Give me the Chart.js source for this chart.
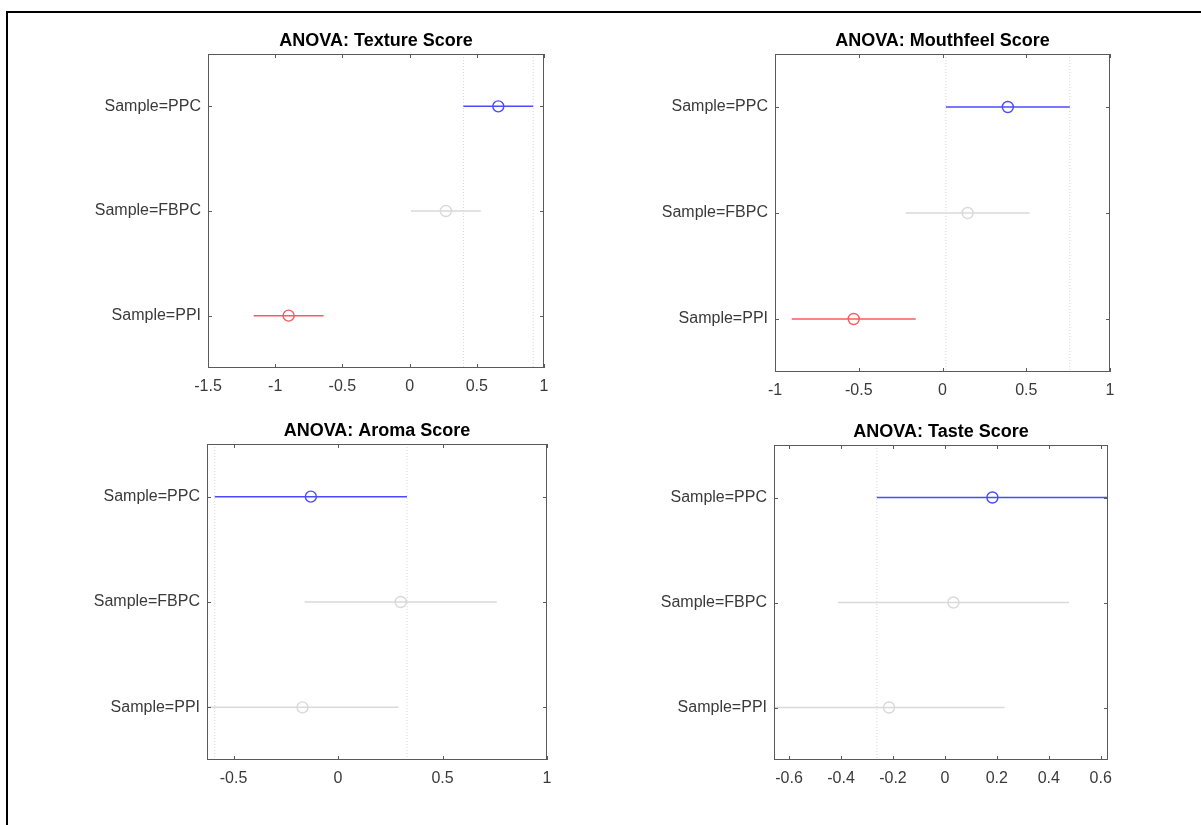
<!DOCTYPE html>
<html>
<head>
<meta charset="utf-8">
<script src="https://cdn.jsdelivr.net/npm/chart.js@4.4.0/dist/chart.umd.min.js"></script>
<style>
  html, body { margin: 0; padding: 0; background: #fff; }
  #page { position: relative; width: 1201px; height: 825px; overflow: hidden; }
  #frame { position: absolute; left: 6px; top: 11px; width: 1300px; height: 900px;
           border-left: 2px solid #000; border-top: 2px solid #000; }
  canvas { position: absolute; }
</style>
</head>
<body>
<div id="page">
  <div id="frame"></div>
  <canvas id="texture"></canvas>
  <canvas id="mouthfeel"></canvas>
  <canvas id="aroma"></canvas>
  <canvas id="taste"></canvas>
</div>
<script>
// === DADOS ===
const samples = ['Sample=PPC', 'Sample=FBPC', 'Sample=PPI'];

const textureMean = [0.66, 0.27, -0.90];
const textureLow = [0.40, 0.01, -1.16];
const textureHigh = [0.92, 0.53, -0.64];
const textureRange = [-1.5, 1];
const textureTicks = [-1.5, -1, -0.5, 0, 0.5, 1];

const mouthfeelMean = [0.39, 0.15, -0.53];
const mouthfeelLow = [0.02, -0.22, -0.90];
const mouthfeelHigh = [0.76, 0.52, -0.16];
const mouthfeelRange = [-1, 1];
const mouthfeelTicks = [-1, -0.5, 0, 0.5, 1];

const aromaMean = [-0.13, 0.30, -0.17];
const aromaLow = [-0.59, -0.16, -0.63];
const aromaHigh = [0.33, 0.76, 0.29];
const aromaRange = [-0.627, 1];
const aromaTicks = [-0.5, 0, 0.5, 1];

const tasteMean = [0.183, 0.033, -0.215];
const tasteLow = [-0.262, -0.412, -0.66];
const tasteHigh = [0.628, 0.478, 0.23];
const tasteRange = [-0.658, 0.628];
const tasteTicks = [-0.6, -0.4, -0.2, 0, 0.2, 0.4, 0.6];

// === LAYOUT ===
const Y_AXIS_W = 150, TOP_H = 24, X_AXIS_H = 40, RIGHT_PAD = 20;

Chart.defaults.font.family = '"Liberation Sans", Arial, Helvetica, sans-serif';
Chart.defaults.font.size = 16;
Chart.defaults.color = '#3a3a3a';

const boxPlugin = {
  id: 'box',
  afterDatasetsDraw(chart) {
    const { ctx, chartArea: a, scales: { x, y } } = chart;
    ctx.save();
    ctx.strokeStyle = '#5a5a5a';
    ctx.lineWidth = 1;
    ctx.strokeRect(a.left + 0.5, a.top + 0.5, a.width - 1, a.height - 1);
    ctx.beginPath();
    x.ticks.forEach(t => {
      const px = Math.round(x.getPixelForValue(t.value)) + 0.5;
      ctx.moveTo(px, a.bottom); ctx.lineTo(px, a.bottom - 4);
      ctx.moveTo(px, a.top); ctx.lineTo(px, a.top + 4);
    });
    y.ticks.forEach(t => {
      const py = Math.round(y.getPixelForValue(t.value)) + 0.5;
      ctx.moveTo(a.left, py); ctx.lineTo(a.left + 4, py);
      ctx.moveTo(a.right, py); ctx.lineTo(a.right - 4, py);
    });
    ctx.stroke();
    ctx.restore();
  }
};

function corGrupo(i, low, high) {
  if (i === 0) return '#4a4aff';
  if (high[i] < low[0] || low[i] > high[0]) return '#ff5a5a';
  return '#d9d9d9';
}

function desenha(id, titulo, mean, low, high, range, ticks, box) {
  const canvas = document.getElementById(id);
  canvas.width = box.w + Y_AXIS_W + RIGHT_PAD;
  canvas.height = box.h + TOP_H + X_AXIS_H;
  canvas.style.left = (box.x - Y_AXIS_W) + 'px';
  canvas.style.top = (box.y - TOP_H) + 'px';

  const cores = samples.map((_, i) => corGrupo(i, low, high));
  const datasets = [];

  datasets.push({
    type: 'scatter',
    data: mean.map((m, i) => ({ x: m, y: i + 1 })),
    pointStyle: 'circle',
    pointRadius: 5.5,
    pointBorderWidth: 1.4,
    pointBorderColor: cores,
    pointBackgroundColor: 'rgba(0,0,0,0)',
    showLine: false
  });

  samples.forEach((_, i) => {
    datasets.push({
      type: 'scatter',
      data: [{ x: low[i], y: i + 1 }, { x: high[i], y: i + 1 }],
      showLine: true,
      borderColor: cores[i],
      borderWidth: 1.5,
      pointRadius: 0
    });
  });

  // linhas pontilhadas do grupo selecionado
  [low[0], high[0]].forEach(v => {
    datasets.push({
      type: 'scatter',
      data: [{ x: v, y: 0.5 }, { x: v, y: 3.5 }],
      showLine: true,
      borderColor: '#d6d6d6',
      borderWidth: 1,
      borderDash: [1, 2],
      pointRadius: 0
    });
  });

  new Chart(canvas.getContext('2d'), {
    type: 'scatter',
    data: { datasets },
    options: {
      responsive: false,
      animation: false,
      layout: { padding: { left: 0, right: RIGHT_PAD, top: 0, bottom: 0 } },
      plugins: {
        legend: { display: false },
        tooltip: { enabled: false },
        title: {
          display: true,
          fullSize: false,
          text: titulo,
          color: '#000',
          font: { size: 18, weight: 'bold' },
          padding: { top: 0, bottom: 2.4 }
        }
      },
      scales: {
        x: {
          type: 'linear',
          min: range[0],
          max: range[1],
          grid: { display: false, drawTicks: false },
          border: { display: false },
          afterBuildTicks: s => { s.ticks = ticks.map(v => ({ value: v })); },
          afterFit: s => { s.height = X_AXIS_H; },
          ticks: { padding: 9, maxRotation: 0, autoSkip: false, callback: v => String(v) }
        },
        y: {
          type: 'linear',
          min: 0.5,
          max: 3.5,
          reverse: true,
          grid: { display: false, drawTicks: false },
          border: { display: false },
          afterBuildTicks: s => { s.ticks = samples.map((_, i) => ({ value: i + 1 })); },
          afterFit: s => { s.width = Y_AXIS_W; },
          ticks: { padding: 7, autoSkip: false, callback: v => samples[v - 1] }
        }
      }
    },
    plugins: [boxPlugin]
  });
}

desenha('texture', 'ANOVA: Texture Score', textureMean, textureLow, textureHigh,
  textureRange, textureTicks, { x: 208, y: 54, w: 336, h: 314 });
desenha('mouthfeel', 'ANOVA: Mouthfeel Score', mouthfeelMean, mouthfeelLow, mouthfeelHigh,
  mouthfeelRange, mouthfeelTicks, { x: 775, y: 54, w: 335, h: 318 });
desenha('aroma', 'ANOVA: Aroma Score', aromaMean, aromaLow, aromaHigh,
  aromaRange, aromaTicks, { x: 207, y: 444, w: 340, h: 316 });
desenha('taste', 'ANOVA: Taste Score', tasteMean, tasteLow, tasteHigh,
  tasteRange, tasteTicks, { x: 774, y: 445, w: 334, h: 315 });
</script>
</body>
</html>
